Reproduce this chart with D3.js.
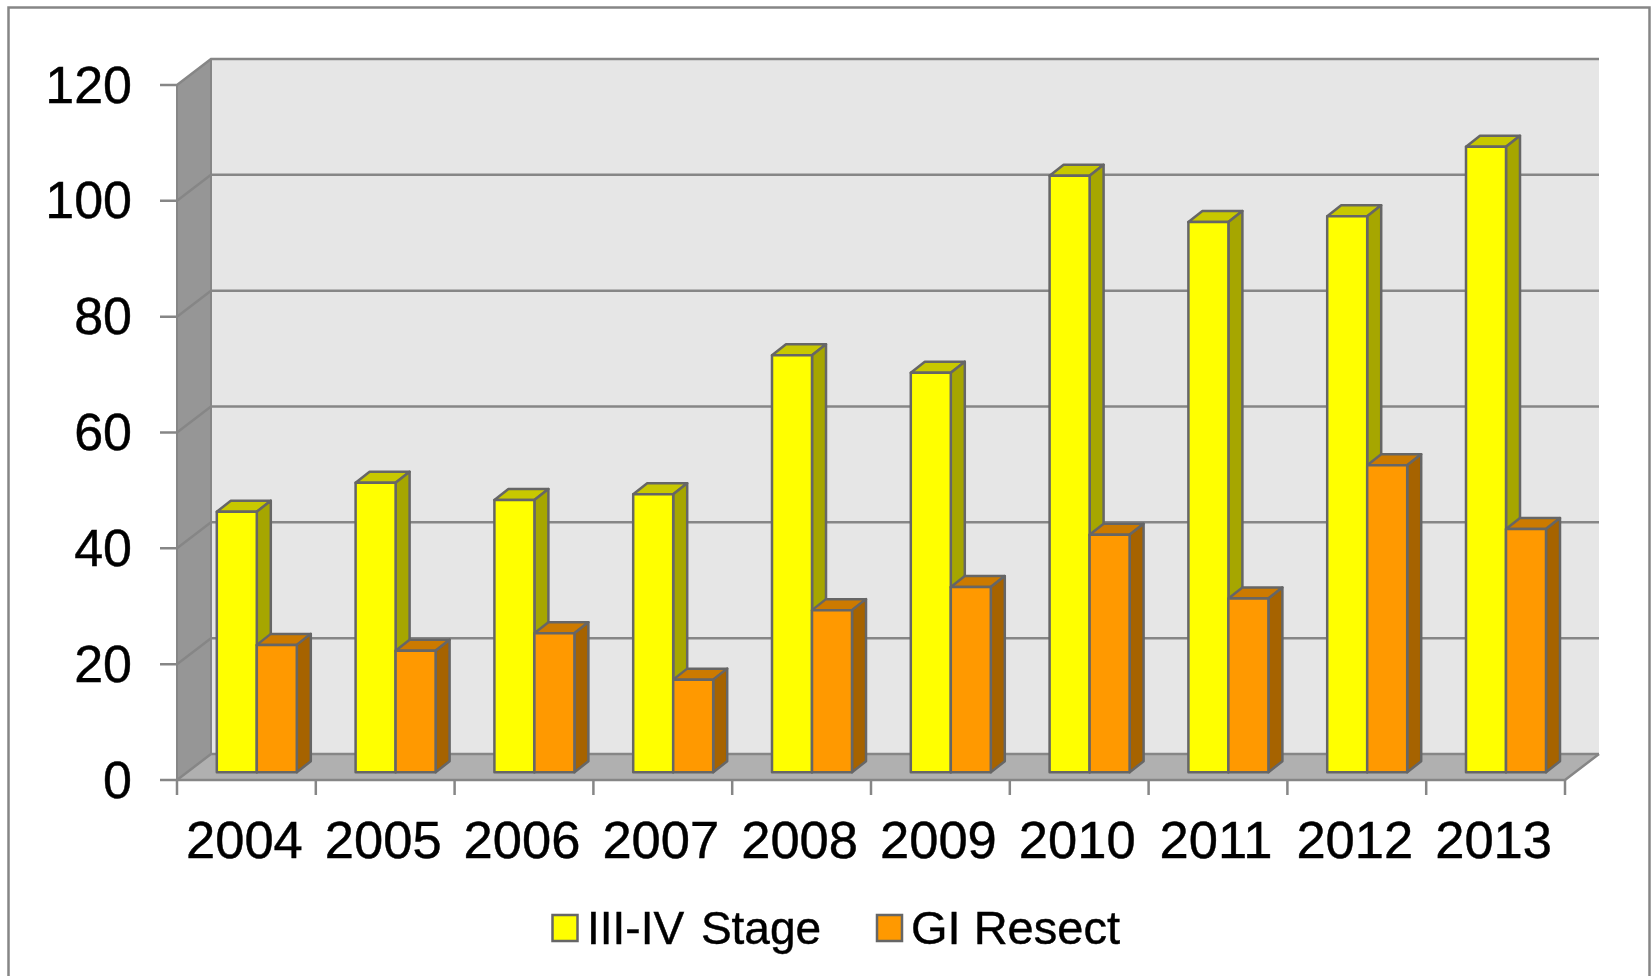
<!DOCTYPE html>
<html><head><meta charset="utf-8">
<script src="https://cdn.jsdelivr.net/npm/d3@7"></script>
<style>html,body{margin:0;padding:0;background:#fff;overflow:hidden}svg{display:block}text{font-family:"Liberation Sans",Arial,sans-serif;fill:#000;stroke:#000;stroke-width:.45px}</style>
</head><body>
<script>
const years = ["2004","2005","2006","2007","2008","2009","2010","2011","2012","2013"];
const stageValues = [45,50,47,48,72,69,103,95,96,108];
const resectValues = [22,21,24,16,28,32,41,30,53,42];
const yTicks = [0,20,40,60,80,100,120];
const seriesNames = ["III-IV Stage","GI Resect"];

const W=1652,H=976;
const x0=177,x1=1565,yBase=780,yTop=85;
const wallDx=34,wallDy=26,barDx=14,barDy=11,barW=40;
const planeDx=(wallDx-barDx)/2+0.4,planeDy=(wallDy-barDy)/2+0.2;
const line="#868686",edge="#666";

const x=d3.scaleBand().domain(years).range([x0,x1]);
const y=d3.scaleLinear().domain([0,120]).range([yBase,yTop]);
const svg=d3.select("body").append("svg").attr("width",W).attr("height",H);
const soft=svg.append("defs").append("filter").attr("id","soft").attr("x",0).attr("y",0).attr("width",1).attr("height",1).attr("filterUnits","objectBoundingBox");
soft.append("feGaussianBlur").attr("stdDeviation",0.5);
const root=svg.append("g").attr("filter","url(#soft)");
root.append("rect").attr("width",W).attr("height",H).attr("fill","#fff");
const poly=(g,pts,fill,stroke,sw)=>g.append("polygon").attr("points",pts.map(p=>p.join(",")).join(" "))
  .attr("fill",fill).attr("stroke",stroke||"none").attr("stroke-width",sw||0).attr("stroke-linejoin","round");

// outer frame
root.append("rect").attr("x",8.5).attr("y",7.5).attr("width",1641).attr("height",1000)
  .attr("fill","#fff").attr("stroke",line).attr("stroke-width",2.5);

// walls and floor
const walls=root.append("g");
poly(walls,[[x0+wallDx,y(120)-wallDy],[x1+wallDx,y(120)-wallDy],[x1+wallDx,y(0)-wallDy],[x0+wallDx,y(0)-wallDy]],"#e6e6e6");
poly(walls,[[x0,y(120)],[x0+wallDx,y(120)-wallDy],[x0+wallDx,y(0)-wallDy],[x0,y(0)]],"#969696");
poly(walls,[[x0,y(0)],[x0+wallDx,y(0)-wallDy],[x1+wallDx,y(0)-wallDy],[x1,y(0)]],"#b0b0b0");

// gridlines
const grid=root.append("g").attr("fill","none").attr("stroke",line).attr("stroke-width",2.5);
yTicks.forEach(t=>{
  grid.append("path").attr("d",`M${x0-17},${y(t)}L${x0},${y(t)}L${x0+wallDx},${y(t)-wallDy}L${x1+wallDx},${y(t)-wallDy}`);
});
grid.append("path").attr("d",`M${x0},${y(0)}L${x1},${y(0)}L${x1+wallDx},${y(0)-wallDy}`);
grid.append("path").attr("d",`M${x0},${y(120)}L${x0},${y(0)}M${x0+wallDx},${y(120)-wallDy}L${x0+wallDx},${y(0)-wallDy}`).attr("stroke-width",2);

// x ticks
const bandEdges=years.map(d=>x(d)).concat([x1]);
grid.selectAll(".xt").data(bandEdges).join("line").attr("x1",d=>d).attr("x2",d=>d)
  .attr("y1",yBase).attr("y2",yBase+15);

// bars
function bar(g,left,v,front,top,side){
  const b=y(0)-planeDy, t=y(v)-planeDy, r=left+barW;
  poly(g,[[left,t],[left+barDx,t-barDy],[r+barDx,t-barDy],[r,t]],top,edge,2.5);
  poly(g,[[r,t],[r+barDx,t-barDy],[r+barDx,b-barDy],[r,b]],side,edge,2.5);
  poly(g,[[left,t],[r,t],[r,b],[left,b]],front,edge,2.5);
}
const bars=root.append("g");
years.forEach((d,i)=>{
  const c=x(d)+x.bandwidth()/2+planeDx;
  bar(bars,c-barW,stageValues[i],"#ffff00","#c8c800","#a6a600");
  bar(bars,c,resectValues[i],"#ff9900","#cc7a00","#a66300");
});

// axis labels
root.append("g").selectAll("text").data(yTicks).join("text")
  .attr("x",132).attr("y",d=>y(d)+17.5).attr("text-anchor","end").attr("font-size",52).text(d=>d);
root.append("g").selectAll("text").data(years).join("text")
  .attr("x",d=>x(d)+x.bandwidth()/2-2).attr("y",858).attr("text-anchor","middle").attr("font-size",52.5).text(d=>d);

// legend
const legend=root.append("g");
[{n:seriesNames[0],c:"#ffff00",sx:552.5},{n:seriesNames[1],c:"#ff9900",sx:877}].forEach(o=>{
  legend.append("rect").attr("x",o.sx).attr("y",915).attr("width",25).attr("height",26)
    .attr("fill",o.c).attr("stroke",edge).attr("stroke-width",2.5);
});
legend.append("text").attr("x",587).attr("y",944).attr("font-size",46).attr("word-spacing",4).text(seriesNames[0]);
legend.append("text").attr("x",911).attr("y",944).attr("font-size",47).text(seriesNames[1]);
</script>
</body></html>
